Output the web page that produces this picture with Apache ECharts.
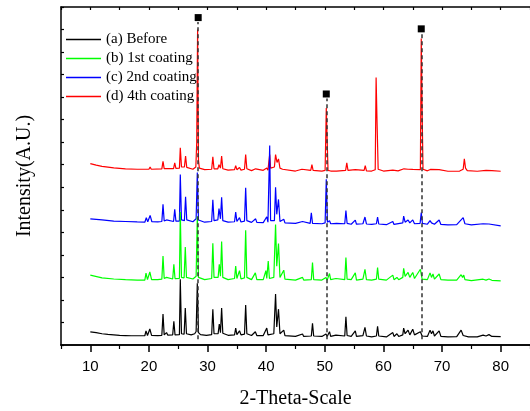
<!DOCTYPE html>
<html>
<head>
<meta charset="utf-8">
<script src="https://cdn.jsdelivr.net/npm/echarts@6/dist/echarts.min.js"></script>
<style>
html,body{margin:0;padding:0;background:#fff;}
#myChart{width:530px;height:411px;}
</style>
</head>
<body>
<div id="myChart"></div>
<script>
// legend names
var names = ['(a) Before', '(b) 1st coating', '(c) 2nd coating', '(d) 4th coating'];
var colors = ['#000000', '#00ff00', '#0000ff', '#ff0000'];

// x axis ticks / labels
var majorTicks = [10, 20, 30, 40, 50, 60, 70, 80];
var minorTicks = [5, 15, 25, 35, 45, 55, 65, 75, 85];

// marked reflections (black squares + dashed lines)
var refPeaks = [28.4, 50.25, 66.45];
var refMarkY = [14.53, 11.14, 14.03];

// (a) Before  [2theta, intensity]
var dataA = [
[10,0.58],[11,0.55],[12,0.5],[13,0.47],[14,0.45],[15,0.43],[16,0.42],[17,0.41],[18,0.41],[19.3,0.41],[19.5,0.63],[19.75,0.42],
[20.15,0.71],[20.45,0.43],[21.5,0.42],[22.2,0.43],[22.4,1.37],[22.6,0.45],[23,0.55],[23.2,0.44],[24.05,0.45],[24.25,1.05],[24.45,0.45],
[25.2,0.46],[25.35,2.92],[25.55,0.5],[26,0.48],[26.2,1.64],[26.4,0.5],[27.2,0.45],[27.8,0.5],[28.05,0.6],[28.25,2.74],[28.45,0.55],
[28.8,0.46],[29.8,0.43],[30.7,0.46],[30.9,1.59],[31.1,0.5],[31.8,0.5],[32,0.93],[32.2,0.55],[32.4,1.64],[32.6,0.52],[33.5,0.43],
[34.6,0.45],[34.8,0.75],[35,0.46],[35.45,0.63],[35.7,0.45],[36.3,0.48],[36.5,1.77],[36.7,0.5],[37.5,0.42],[38.15,0.59],[38.4,0.42],
[39.5,0.42],[40.1,0.75],[40.3,0.45],[41.3,0.5],[41.6,2.26],[41.8,0.8],[42.1,1.59],[42.35,0.5],[43,0.66],[43.2,0.42],[45,0.38],
[46.2,0.49],[46.4,0.38],[47.7,0.4],[47.9,0.96],[48.1,0.4],[49.5,0.38],[50.2,0.49],[50.4,0.38],[50.8,0.59],[51,0.38],[51.9,0.44],
[52.2,0.36],[53.4,0.4],[53.6,1.25],[53.8,0.42],[54.5,0.38],[55.2,0.63],[55.4,0.38],[56.5,0.42],[56.85,0.78],[57.1,0.4],[58,0.36],
[58.8,0.4],[59,0.83],[59.2,0.4],[60.5,0.36],[61.6,0.55],[61.8,0.38],[62.3,0.5],[62.6,0.38],[63.3,0.45],[63.45,0.75],[63.7,0.5],
[64.2,0.66],[64.5,0.45],[65,0.7],[65.3,0.45],[66.3,0.59],[66.6,0.4],[67.5,0.38],[67.95,0.66],[68.2,0.5],[68.45,0.63],[68.7,0.4],
[69.5,0.63],[69.8,0.38],[71,0.36],[72.5,0.37],[73.25,0.66],[73.6,0.42],[74.5,0.36],[76,0.36],[77,0.44],[77.5,0.4],[78,0.46],
[78.5,0.38],[80,0.37]
];

// (b) 1st coating
var dataB = [
[10,3.1],[12,2.98],[14,2.93],[16,2.9],[18,2.88],[19.3,2.88],[19.5,3.19],[19.75,2.9],[20.15,3.24],[20.45,2.9],[21.5,2.9],[22.2,2.92],
[22.4,3.95],[22.6,2.95],[23,3.0],[23.2,2.92],[24.05,2.93],[24.25,3.58],[24.45,2.95],[25.2,2.96],[25.35,5.9],[25.55,3.0],[26,2.98],
[26.2,4.35],[26.4,3.0],[27.5,2.93],[28.05,3.05],[28.25,5.7],[28.45,3.0],[29.5,2.9],[30.7,2.95],[30.9,4.51],[31.1,3.0],[31.8,3.0],
[32,3.58],[32.2,3.05],[32.4,4.59],[32.6,3.0],[33.5,2.9],[34.6,2.95],[34.8,3.5],[35,2.95],[35.45,3.3],[35.7,2.93],[36.3,2.98],
[36.5,5.09],[36.7,3.0],[37.5,2.9],[38.15,3.2],[38.4,2.9],[39.5,2.9],[39.95,3.3],[40.1,2.95],[40.35,3.73],[40.55,2.95],[41.3,3.0],
[41.6,5.35],[41.8,3.5],[42.1,4.5],[42.35,3.0],[43,3.32],[43.2,2.92],[45,2.88],[46.2,3.0],[46.4,2.88],[47.7,2.9],[47.9,3.66],
[48.1,2.9],[49.5,2.88],[50.2,3.0],[50.4,2.88],[50.8,3.17],[51,2.9],[51.9,2.95],[52.2,2.88],[53.4,2.9],[53.6,3.88],[53.8,2.92],
[54.5,2.9],[55.2,3.2],[55.4,2.88],[56.5,2.92],[56.85,3.36],[57.1,2.9],[58,2.88],[58.8,2.92],[59,3.44],[59.2,2.92],[60.5,2.88],
[61.6,3.1],[61.8,2.9],[62.3,3.0],[62.6,2.9],[63.3,3.0],[63.45,3.4],[63.7,3.05],[64.2,3.22],[64.5,3.0],[65,3.22],[65.3,2.95],
[66.3,3.36],[66.6,2.92],[67.5,2.9],[67.95,3.2],[68.2,3.0],[68.45,3.15],[68.7,2.92],[69.5,3.15],[69.8,2.9],[71,2.88],[72.5,2.88],
[73.25,3.12],[73.5,3.0],[73.7,3.1],[73.9,2.9],[75,2.86],[77,2.92],[77.5,2.88],[78,2.93],[78.5,2.87],[80,2.85]
];

// (c) 2nd coating
var dataC = [
[10,5.6],[12,5.55],[14,5.5],[16,5.48],[18,5.46],[19.3,5.45],[19.55,5.65],[19.8,5.47],[20.2,5.75],[20.5,5.47],[21.5,5.46],[22.2,5.48],
[22.4,6.24],[22.6,5.5],[23,5.55],[23.2,5.47],[24.2,5.48],[24.4,6.02],[24.6,5.5],[25.2,5.5],[25.35,7.57],[25.55,5.55],[26.05,5.52],
[26.25,6.58],[26.45,5.55],[27.5,5.47],[28.05,5.6],[28.25,7.65],[28.45,5.55],[29.5,5.45],[30.7,5.48],[30.9,6.45],[31.1,5.52],
[31.75,5.55],[31.95,6.05],[32.2,5.6],[32.4,6.56],[32.6,5.52],[33.5,5.45],[34.6,5.47],[34.8,5.9],[35,5.48],[35.45,5.65],[35.7,5.46],
[36.3,5.5],[36.5,6.98],[36.7,5.52],[37.5,5.44],[38.2,5.6],[38.4,5.44],[39.5,5.43],[40.1,5.69],[40.3,5.45],[40.45,5.48],[40.6,8.85],
[40.75,5.52],[41.4,5.52],[41.6,7.0],[41.8,5.8],[42.1,6.46],[42.35,5.48],[43,5.58],[43.2,5.42],[45,5.4],[46.2,5.48],[46.4,5.4],
[47.5,5.4],[47.7,5.87],[47.9,5.4],[49.5,5.38],[50.05,5.42],[50.25,7.35],[50.45,5.45],[50.8,5.52],[51,5.38],[52,5.4],[53.4,5.38],
[53.6,5.97],[53.8,5.4],[54.5,5.36],[55.2,5.54],[55.4,5.36],[56.5,5.38],[56.85,5.68],[57.1,5.37],[58,5.35],[58.8,5.38],[59,5.68],
[59.2,5.37],[60.5,5.34],[61.6,5.48],[61.8,5.35],[63.3,5.42],[63.45,5.72],[63.7,5.45],[64.2,5.55],[64.5,5.42],[65,5.55],[65.3,5.38],
[66.25,5.4],[66.45,5.88],[66.65,5.4],[67.5,5.36],[67.95,5.52],[68.2,5.42],[68.45,5.5],[68.7,5.36],[69.5,5.55],[69.8,5.35],[71,5.33],
[72.5,5.34],[73.6,5.65],[73.9,5.38],[75,5.33],[77,5.38],[78,5.37],[80,5.29]
];

// (d) 4th coating
var dataD = [
[10,8.05],[11,7.98],[12,7.93],[14,7.86],[16,7.82],[18,7.8],[19.6,7.8],[19.8,7.88],[20,7.8],[20.2,7.9],[20.4,7.8],[22.2,7.82],
[22.4,8.15],[22.6,7.83],[24.2,7.83],[24.4,8.08],[24.6,7.84],[25.2,7.85],[25.35,8.75],[25.55,7.9],[26.05,7.9],[26.25,8.38],[26.45,7.88],
[27.5,7.8],[28.0,7.9],[28.15,8.98],[28.3,14.0],[28.45,8.2],[28.6,7.85],[29.5,7.78],[30.7,7.8],[30.9,8.35],[31.1,7.82],[31.75,7.82],
[31.95,8.0],[32.2,7.85],[32.4,8.38],[32.6,7.82],[33.5,7.76],[34.6,7.78],[34.8,7.96],[35,7.78],[35.45,7.88],[35.7,7.76],[36.3,7.8],
[36.5,8.45],[36.7,7.82],[37.5,7.74],[38.2,7.82],[38.4,7.74],[39.5,7.75],[40.1,7.85],[40.3,7.76],[40.45,7.8],[40.6,8.45],[40.75,7.85],
[41.4,7.9],[41.6,8.45],[41.85,8.1],[42.1,8.26],[42.35,7.85],[42.8,7.8],[43,7.76],[45,7.72],[46.1,7.8],[46.3,7.72],[47.6,7.75],
[47.8,8.0],[48,7.75],[49.5,7.72],[50.05,7.75],[50.25,10.52],[50.4,9.1],[50.55,7.75],[51,7.72],[52,7.72],[53.55,7.75],[53.75,8.08],
[53.95,7.75],[55.2,7.78],[55.4,7.72],[56.7,7.75],[56.9,7.96],[57.1,7.73],[58,7.72],[58.6,7.78],[58.75,11.87],[58.9,10.0],[59.1,7.8],
[60,7.72],[61.6,7.76],[62.5,7.73],[63.5,7.82],[63.8,7.76],[64.2,7.8],[64.5,7.75],[65,7.79],[65.3,7.73],[66.3,7.78],[66.45,13.6],
[66.6,10.37],[66.75,7.8],[67.5,7.73],[68,7.79],[68.3,7.74],[69.5,7.78],[69.8,7.72],[71,7.71],[73,7.72],[73.6,7.8],[73.8,8.26],
[74,7.85],[74.3,7.74],[76,7.71],[77.5,7.75],[78.5,7.74],[80,7.71]
];

var patterns = [dataA, dataB, dataC, dataD];

var myChart = echarts.init(document.getElementById('myChart'));

var axisLine = {show: true, lineStyle: {color: '#000', width: 1.5}};

var series = [];
// red drawn first so the lower curves lie on top of it
for (var i = patterns.length - 1; i >= 0; i--) {
	series.push({
		name: names[i],
		type: 'line',
		data: patterns[i],
		symbol: 'none',
		lineStyle: {color: colors[i], width: 1.2},
		itemStyle: {color: colors[i]},
		z: 2
	});
}

// squares + dashed guide lines
var squares = [];
var guides = [];
for (var k = 0; k < refPeaks.length; k++) {
	squares.push([refPeaks[k], refMarkY[k]]);
	guides.push([{coord: [refPeaks[k], 0.25]}, {coord: [refPeaks[k], refMarkY[k] - 0.2]}]);
}
series.push({
	type: 'scatter',
	data: squares,
	symbol: 'rect',
	symbolSize: 7,
	itemStyle: {color: '#000', opacity: 1},
	z: 5,
	markLine: {
		silent: true,
		symbol: ['none', 'none'],
		label: {show: false},
		lineStyle: {color: '#333', width: 1.5, type: [4, 3]},
		data: guides
	}
});

var option = {
	animation: false,
	backgroundColor: '#fff',
	// fixed plot box, do not shrink it for the axis names
	grid: {left: 61, right: 0, top: 7, bottom: 66, outerBoundsMode: 'none'},
	legend: {
		data: names,
		orient: 'vertical',
		left: 66,
		top: 32,
		padding: 0,
		icon: 'rect',   // plain line, no symbol
		itemWidth: 35,
		itemHeight: 1.3,
		itemGap: 4,
		textStyle: {fontFamily: 'Liberation Serif', fontSize: 15, color: '#000'}
	},
	xAxis: [{
		type: 'value',
		min: 5,
		max: 85,
		interval: 5,
		position: 'bottom',
		name: '2-Theta-Scale',
		nameLocation: 'middle',
		nameGap: 44,
		nameTextStyle: {fontFamily: 'Liberation Serif', fontSize: 20, color: '#000'},
		axisLine: axisLine,
		axisTick: {show: true, inside: false, length: 7, customValues: majorTicks, lineStyle: {color: '#000', width: 1.5}},
		axisLabel: {show: true, customValues: majorTicks, margin: 14, fontFamily: 'Liberation Sans', fontSize: 15, color: '#000'},
		splitLine: {show: false}
	}, {
		// short ticks at the 5s
		type: 'value',
		min: 5,
		max: 85,
		interval: 5,
		position: 'bottom',
		axisLine: axisLine,
		axisTick: {show: true, inside: false, length: 4, customValues: minorTicks, lineStyle: {color: '#000', width: 1.2}},
		axisLabel: {show: false},
		splitLine: {show: false}
	}, {
		// top frame
		type: 'value',
		min: 5,
		max: 85,
		interval: 5,
		position: 'top',
		axisLine: axisLine,
		axisTick: {show: true, inside: true, length: 3, lineStyle: {color: '#000', width: 1.2}},
		axisLabel: {show: false},
		splitLine: {show: false}
	}],
	yAxis: [{
		type: 'value',
		min: 0,
		max: 15,
		interval: 1,
		name: 'Intensity(A.U.)',
		nameLocation: 'middle',
		nameGap: 26,
		nameTextStyle: {fontFamily: 'Liberation Serif', fontSize: 20, color: '#000'},
		axisLine: axisLine,
		axisTick: {show: true, inside: true, length: 3, lineStyle: {color: '#000', width: 1.2}},
		axisLabel: {show: false},
		splitLine: {show: false}
	}],
	series: series
};
myChart.setOption(option);
</script>
</body>
</html>
